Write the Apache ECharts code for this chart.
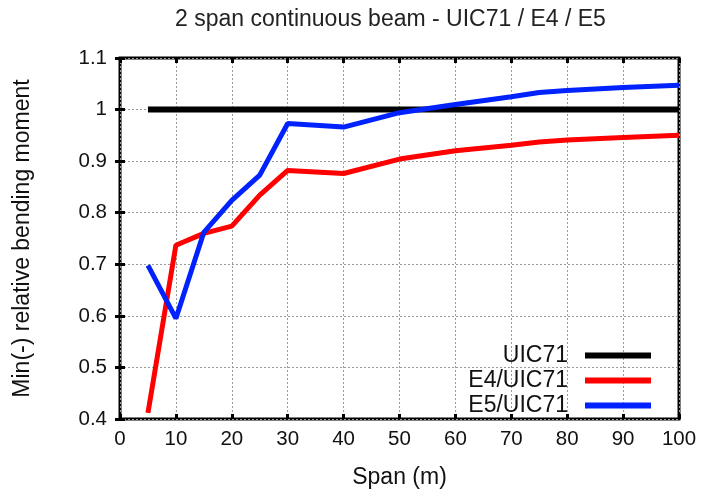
<!DOCTYPE html>
<html>
<head>
<meta charset="utf-8">
<script src="https://cdn.jsdelivr.net/npm/echarts@6/dist/echarts.min.js"></script>
<style>html,body{margin:0;padding:0;background:#fff}#chart{width:703px;height:494px}</style>
</head>
<body>
<div id="chart"></div>
<script>
// span (m)
const spans = [5, 10, 15, 20, 25, 30, 40, 50, 60, 70, 75, 80, 90, 100];
const uic71 = [1, 1, 1, 1, 1, 1, 1, 1, 1, 1, 1, 1, 1, 1];
const e4 = [0.412, 0.737, 0.760, 0.774, 0.834, 0.882, 0.876, 0.904, 0.920, 0.931, 0.937, 0.941, 0.946, 0.950];
const e5 = [0.698, 0.595, 0.762, 0.824, 0.873, 0.973, 0.966, 0.994, 1.010, 1.025, 1.033, 1.037, 1.043, 1.047];
const yTicks = [0.4, 0.5, 0.6, 0.7, 0.8, 0.9, 1, 1.1];

const pairs = ys => spans.map((x, i) => [x, ys[i]]);
const font = 'Liberation Sans, Arial, sans-serif';
const gridLine = { show: true, lineStyle: { color: '#999', type: [2, 2], width: 1 } };
const tick = { show: true, inside: true, length: 5, lineStyle: { color: '#000', width: 3 } };

const myChart = echarts.init(document.getElementById('chart'));
myChart.setOption({
    animation: false,
    title: {
        text: '2 span continuous beam - UIC71 / E4 / E5',
        left: 170, top: 3,
        textStyle: { fontFamily: font, fontSize: 23, fontWeight: 'normal', color: '#222' }
    },
    grid: { left: 120, right: 24, top: 58, bottom: 75, show: true, borderColor: '#000', borderWidth: 3 },
    legend: {
        orient: 'vertical', right: 47, top: 339, align: 'right',
        itemWidth: 66, itemHeight: 6, itemGap: 2,
        textStyle: { fontFamily: font, fontSize: 23, lineHeight: 20, color: '#111', padding: [0, 12, 0, 0] },
        data: [
            { name: 'UIC71', icon: 'rect', itemStyle: { color: '#000' } },
            { name: 'E4/UIC71', icon: 'rect', itemStyle: { color: '#ff0000' } },
            { name: 'E5/UIC71', icon: 'rect', itemStyle: { color: '#0022ff' } }
        ]
    },
    xAxis: [{
        type: 'value', min: 0, max: 100, interval: 10,
        name: 'Span (m)', nameLocation: 'middle', nameGap: 47,
        nameTextStyle: { fontFamily: font, fontSize: 23, color: '#111' },
        axisLine: { show: false },
        axisTick: tick,
        axisLabel: { fontFamily: font, fontSize: 20.5, color: '#111', margin: 10 },
        splitLine: gridLine
    }, {
        type: 'value', min: 0, max: 100, interval: 10, position: 'top',
        axisLine: { show: false }, axisTick: tick,
        axisLabel: { show: false }, splitLine: { show: false }
    }],
    yAxis: [{
        type: 'value', min: 0.4, max: 1.1, interval: 0.1,
        name: 'Min(-) relative bending moment', nameLocation: 'middle', nameGap: 86,
        nameTextStyle: { fontFamily: font, fontSize: 23, color: '#111' },
        axisLine: { show: false },
        axisTick: tick,
        axisLabel: {
            fontFamily: font, fontSize: 20.5, color: '#111', margin: 13,
            formatter: v => { const t = yTicks.find(k => Math.abs(k - v) < 1e-6); return t === undefined ? '' : String(t); }
        },
        splitLine: gridLine
    }, {
        type: 'value', min: 0.4, max: 1.1, interval: 0.1, position: 'right',
        axisLine: { show: false }, axisTick: tick,
        axisLabel: { show: false }, splitLine: { show: false }
    }],
    series: [
        { name: 'UIC71', type: 'line', data: pairs(uic71), showSymbol: false, lineStyle: { color: '#000', width: 6 }, itemStyle: { color: '#000' }, z: 3 },
        { name: 'E4/UIC71', type: 'line', data: pairs(e4), showSymbol: false, lineStyle: { color: '#ff0000', width: 5 }, itemStyle: { color: '#ff0000' }, z: 4 },
        { name: 'E5/UIC71', type: 'line', data: pairs(e5), showSymbol: false, lineStyle: { color: '#0022ff', width: 5 }, itemStyle: { color: '#0022ff' }, z: 5 }
    ]
});
</script>
</body>
</html>
